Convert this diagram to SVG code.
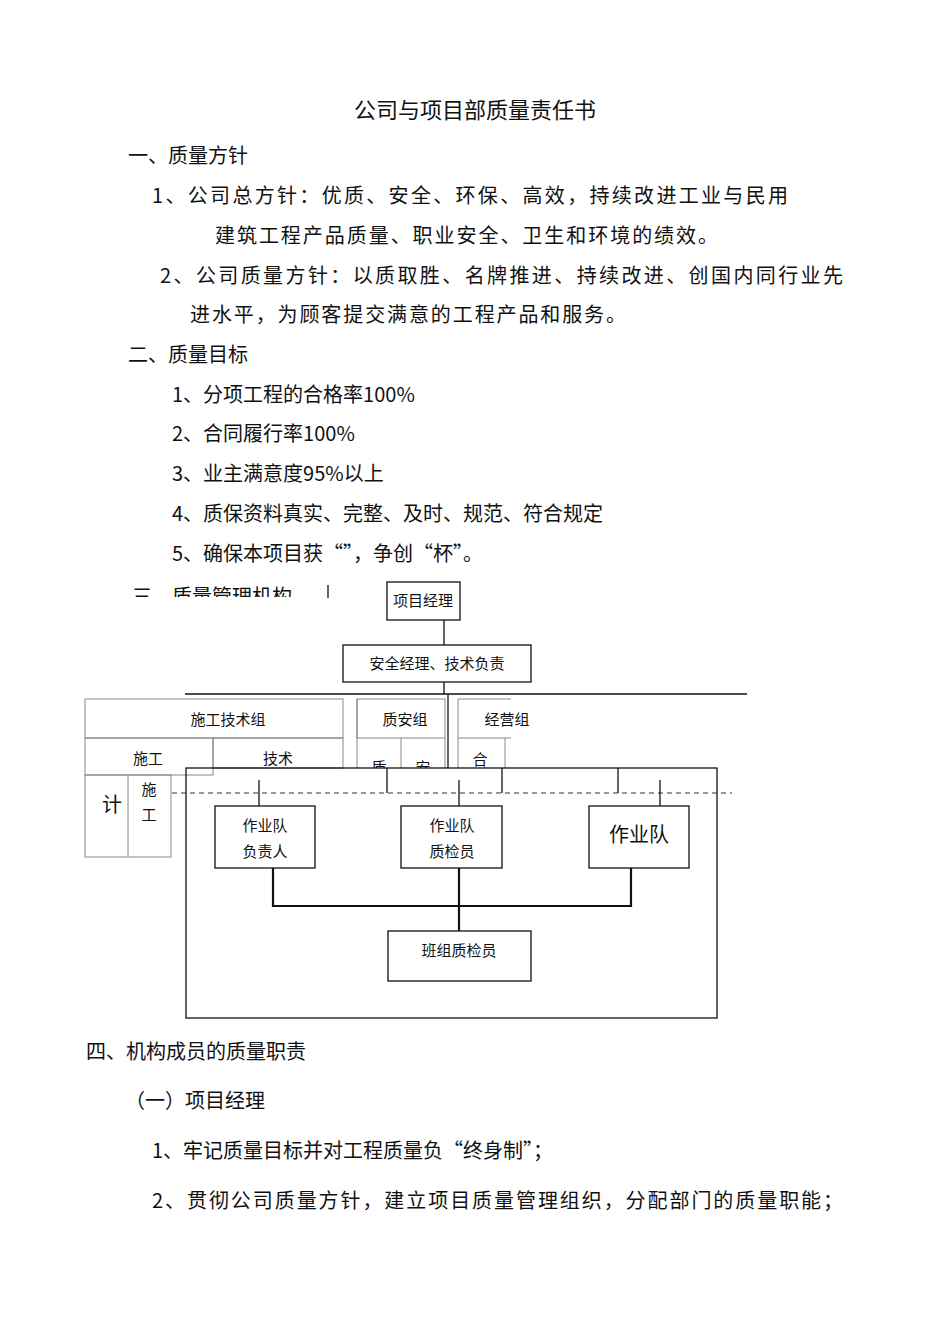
<svg xmlns="http://www.w3.org/2000/svg" width="950" height="1344" viewBox="0 0 950 1344">
<style>
text{font-family:"Noto Sans CJK SC","Noto Sans",sans-serif;fill:#111}
.b{font-size:20px}
.s{font-size:15px}
.n{fill:#fff;stroke:#111;stroke-width:1.3}
.l{stroke:#111;stroke-width:1.3;fill:none}
.g{stroke:#888;stroke-width:1;fill:none}
</style>
<defs><clipPath id="c3"><rect x="0" y="570" width="950" height="27"/></clipPath></defs>
<rect width="950" height="1344" fill="#fff"/>
<text x="475" y="118" font-size="22" text-anchor="middle">公司与项目部质量责任书</text>
<text class="b" x="128" y="163">一、质量方针</text>
<text class="b" x="152" y="203" textLength="636">1、公司总方针：优质、安全、环保、高效，持续改进工业与民用</text>
<text class="b" x="215" y="243" textLength="503">建筑工程产品质量、职业安全、卫生和环境的绩效。</text>
<text class="b" x="160" y="283" textLength="683">2、公司质量方针：以质取胜、名牌推进、持续改进、创国内同行业先</text>
<text class="b" x="190" y="322" textLength="436">进水平，为顾客提交满意的工程产品和服务。</text>
<text class="b" x="128" y="362">二、质量目标</text>
<text class="b" x="172" y="402">1、分项工程的合格率100%</text>
<text class="b" x="172" y="441">2、合同履行率100%</text>
<text class="b" x="172" y="481">3、业主满意度95%以上</text>
<text class="b" x="172" y="521">4、质保资料真实、完整、及时、规范、符合规定</text>
<text class="b" x="172" y="561">5、确保本项目获“”，争创“杯”。</text>
<g clip-path="url(#c3)"><text class="b" x="132" y="604">三、质量管理机构</text></g>
<line class="l" x1="328" y1="585" x2="328" y2="598"/>
<g id="pm"><rect class="n" x="387" y="582" width="73" height="38"/><text class="s" x="423" y="606" text-anchor="middle">项目经理</text></g>
<g id="safe"><rect class="n" x="343" y="645" width="188" height="37"/><text class="s" x="437" y="669" text-anchor="middle">安全经理、技术负责</text></g>
<g id="tech">
<rect class="g" x="85" y="699" width="258" height="39"/><text class="s" x="228" y="725" text-anchor="middle">施工技术组</text>
<rect class="g" x="85" y="738" width="128" height="37"/><rect class="g" x="213" y="738" width="130" height="30"/>
<text class="s" x="148" y="764" text-anchor="middle">施工</text><text class="s" x="278" y="764" text-anchor="middle">技术</text>
<rect class="g" x="85" y="775" width="86" height="82"/><line class="g" x1="128" y1="775" x2="128" y2="857"/>
<text class="b" x="112" y="812" text-anchor="middle">计</text>
<text class="s" x="149" y="795" text-anchor="middle">施</text><text class="s" x="149" y="820" text-anchor="middle">工</text>
</g>
<g id="qa">
<line class="g" x1="357" y1="699" x2="357" y2="768"/>
<rect class="g" x="357" y="699" width="88" height="39"/><text class="s" x="405" y="725" text-anchor="middle">质安组</text>
<line class="g" x1="401" y1="738" x2="401" y2="768"/><line class="g" x1="445" y1="738" x2="445" y2="768"/>
<svg x="357" y="738" width="100" height="30"><text class="s" x="22" y="35" text-anchor="middle">质</text><text class="s" x="66" y="35" text-anchor="middle">安</text></svg>
</g>
<g id="biz">
<path class="g" d="M511 699H458V768M458 738H511M505 738V768"/>
<text class="s" x="507" y="725" text-anchor="middle">经营组</text>
<svg x="458" y="738" width="47" height="30"><text class="s" x="22" y="27" text-anchor="middle">合</text></svg>
</g>
<g id="frame"><rect class="l" x="186" y="768" width="531" height="250"/></g>
<g id="t1"><rect class="n" x="215" y="806" width="100" height="62"/><text class="s" x="265" y="831" text-anchor="middle">作业队</text><text class="s" x="265" y="857" text-anchor="middle">负责人</text></g>
<g id="t2"><rect class="n" x="401" y="806" width="101" height="62"/><text class="s" x="452" y="831" text-anchor="middle">作业队</text><text class="s" x="452" y="857" text-anchor="middle">质检员</text></g>
<g id="t3"><rect class="n" x="589" y="806" width="100" height="62"/><text x="639" y="842" font-size="20" text-anchor="middle">作业队</text></g>
<g id="team"><rect class="n" x="388" y="931" width="143" height="50"/><text class="s" x="459" y="956" text-anchor="middle">班组质检员</text></g>
<g id="connectors">
<line class="l" x1="444" y1="620" x2="444" y2="645"/>
<line class="l" x1="444" y1="682" x2="444" y2="694"/>
<line class="l" x1="185" y1="694" x2="747" y2="694"/>
<line class="l" x1="448" y1="694" x2="448" y2="768"/>
<line stroke="#333" stroke-width="1.2" stroke-dasharray="5,4" x1="172" y1="793" x2="732" y2="793"/>
<line class="l" x1="259" y1="780" x2="259" y2="806"/>
<line class="l" x1="387" y1="768" x2="387" y2="793"/>
<line class="l" x1="459" y1="780" x2="459" y2="806"/>
<line class="l" x1="502" y1="768" x2="502" y2="793"/>
<line class="l" x1="618" y1="768" x2="618" y2="793"/>
<line class="l" x1="660" y1="780" x2="660" y2="806"/>
<path stroke="#111" stroke-width="2.2" fill="none" d="M273 868V906H631V868M459 868V931"/>
</g>
<text class="b" x="86" y="1059">四、机构成员的质量职责</text>
<text class="b" x="125" y="1108">（一）项目经理</text>
<text class="b" x="152" y="1158">1、牢记质量目标并对工程质量负“终身制”；</text>
<text class="b" x="152" y="1208" textLength="691">2、贯彻公司质量方针，建立项目质量管理组织，分配部门的质量职能；</text>
</svg>
